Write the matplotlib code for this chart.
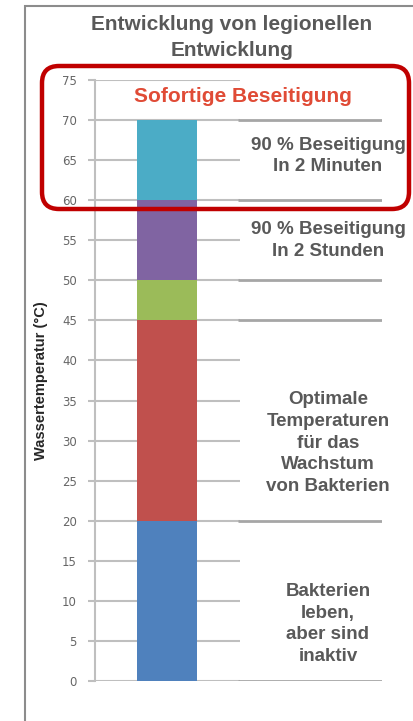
import matplotlib
matplotlib.use("Agg")
import matplotlib.pyplot as plt
from matplotlib.patches import FancyBboxPatch, Rectangle

# Temperaturbereiche (gestapelte Segmente)
unten = [0, 20, 45, 50, 60]
hoehe = [20, 25, 5, 10, 10]
farben = ["#4F81BD", "#C0504D", "#9BBB59", "#8064A2", "#4BACC6"]

# Grenzlinien rechts neben dem Balken
grenzen = [0, 20, 45, 50, 60, 70]

# Beschriftungen rechts: (Text, y-Mitte in °C)
beschriftungen = [
    ("90 % Beseitigung\nIn 2 Minuten", 65.5),
    ("90 % Beseitigung\nIn 2 Stunden", 55),
    ("Optimale\nTemperaturen\nfür das\nWachstum\nvon Bakterien", 29.7),
    ("Bakterien\nleben,\naber sind\ninaktiv", 7.1),
]

yticks = list(range(0, 80, 5))
grau = "#595959"
schrift = ["Liberation Sans", "DejaVu Sans"]

fig = plt.figure(figsize=(4.14, 7.21), dpi=100)
W, H = 414, 721

# äußerer Rahmen
fig.patches.append(Rectangle((25 / W, -0.01), 1.0, (721 - 6) / H + 0.01,
                             transform=fig.transFigure, fill=False,
                             edgecolor="#8C8C8C", linewidth=1.5))

ax = fig.add_axes([95 / W, (H - 681) / H, 287 / W, 601 / H])
ax.set_xlim(0, 287)
ax.set_ylim(0, 75)

# Gitterlinien im Diagrammbereich
ax.hlines(yticks, 0, 145, color="#BFBFBF", linewidth=1.5, zorder=1)

# gestapelter Balken
ax.bar([72] * len(hoehe), hoehe, bottom=unten, width=60, color=farben,
       linewidth=0, zorder=2)

# Grenzlinien rechts
ax.hlines(grenzen, 143, 287, color="#A6A6A6", linewidth=2, zorder=1)

for text, y in beschriftungen:
    ax.text(233, y, text, ha="center", va="center", fontsize=13.5,
            fontweight="bold", color=grau, linespacing=1.35, family=schrift)

for s in ["top", "right", "bottom"]:
    ax.spines[s].set_visible(False)
ax.spines["left"].set_color("#BFBFBF")
ax.spines["left"].set_linewidth(1.5)
ax.set_xticks([])
ax.set_yticks(yticks)
ax.tick_params(axis="y", length=5, color="#BFBFBF", width=1.5,
               labelsize=8.5, labelcolor="#666666", pad=8)
ax.set_ylabel("Wassertemperatur (°C)", fontsize=10.5, fontweight="bold",
              color="#262626", family=schrift)
ax.yaxis.set_label_coords(-47 / 287, 0.5)

# Titel
fig.text(232 / W, 1 - 37.5 / H, "Entwicklung von legionellen\nEntwicklung",
         ha="center", va="center", fontsize=15, fontweight="bold", color=grau,
         linespacing=1.45, family=schrift)

# roter abgerundeter Rahmen
box = FancyBboxPatch((0.42, (H - 209) / 100), 3.67, 1.43,
                     boxstyle="round,pad=0,rounding_size=0.17",
                     transform=fig.dpi_scale_trans, fill=False,
                     edgecolor="#C00000", linewidth=3.2)
fig.patches.append(box)
fig.text(243 / W, 1 - 97 / H, "Sofortige Beseitigung", ha="center",
         va="center", fontsize=15, fontweight="bold", color="#E04B36",
         family=schrift)

fig.savefig("out.png", dpi=100)
